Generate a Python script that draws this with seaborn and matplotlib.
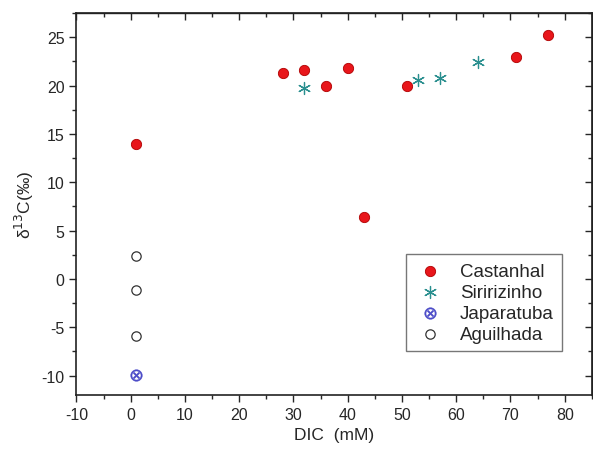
import matplotlib
matplotlib.use("Agg")
import matplotlib.pyplot as plt
from matplotlib.ticker import MultipleLocator
import seaborn as sns
import pandas as pd

# values
castanhal_dic = [1, 28, 32, 36, 40, 43, 51, 71, 77]
castanhal_d13c = [14.0, 21.3, 21.6, 19.9, 21.8, 6.4, 20.0, 22.9, 25.2]
siriri_dic = [32, 53, 57, 64]
siriri_d13c = [19.7, 20.6, 20.8, 22.4]
japaratuba_dic = [1]
japaratuba_d13c = [-9.9]
aguilhada_dic = [1, 1, 1]
aguilhada_d13c = [2.4, -1.1, -5.9]

sns.set_style("ticks")
plt.rcParams["font.family"] = ["Liberation Sans", "DejaVu Sans"]
plt.rcParams["axes.unicode_minus"] = False

fig = plt.figure(figsize=(5.93, 4.52), dpi=100)
ax = fig.add_axes([0.129, 0.124, 0.869, 0.845])

cast = pd.DataFrame({"DIC": castanhal_dic, "d13C": castanhal_d13c})
siri = pd.DataFrame({"DIC": siriri_dic, "d13C": siriri_d13c})
japa = pd.DataFrame({"DIC": japaratuba_dic, "d13C": japaratuba_d13c})
agui = pd.DataFrame({"DIC": aguilhada_dic, "d13C": aguilhada_d13c})

sns.scatterplot(data=cast, x="DIC", y="d13C", ax=ax, marker="o", s=55,
                color="#e8161b", edgecolor="#b00000", linewidth=0.6,
                label="Castanhal", zorder=3)
sns.scatterplot(data=siri, x="DIC", y="d13C", ax=ax, marker=(6, 2, 0), s=75,
                color="#2a8f8f", edgecolor="#2a8f8f", linewidth=0.9,
                label="Siririzinho", zorder=3)
sns.scatterplot(data=japa, x="DIC", y="d13C", ax=ax, marker=r"$\otimes$", s=70,
                color="#4b4bc8", edgecolor="#4b4bc8", linewidth=0.3,
                label="Japaratuba", zorder=3)
sns.scatterplot(data=agui, x="DIC", y="d13C", ax=ax, marker="o", s=45,
                facecolor="white", edgecolor="#333333", linewidth=0.9,
                label="Aguilhada", zorder=3)

ax.set_xlim(-10, 85)
ax.set_ylim(-12, 27.5)
ax.xaxis.set_major_locator(MultipleLocator(10))
ax.xaxis.set_minor_locator(MultipleLocator(5))
ax.yaxis.set_major_locator(MultipleLocator(5))
ax.yaxis.set_minor_locator(MultipleLocator(2.5))
ax.tick_params(which="major", direction="out", length=5, width=1.0, labelsize=11.5)
ax.tick_params(which="minor", direction="out", length=3, width=1.0)

for side in ["top", "right"]:
    sec = ax.secondary_xaxis("top") if side == "top" else ax.secondary_yaxis("right")
    axis = sec.xaxis if side == "top" else sec.yaxis
    axis.set_major_locator(MultipleLocator(10 if side == "top" else 5))
    axis.set_minor_locator(MultipleLocator(5 if side == "top" else 2.5))
    sec.tick_params(which="major", direction="in", length=5, width=1.0)
    sec.tick_params(which="minor", direction="in", length=3, width=1.0)
    sec.tick_params(labeltop=False, labelright=False)
    for sp in sec.spines.values():
        sp.set_linewidth(1.0)

for sp in ax.spines.values():
    sp.set_linewidth(1.2)
    sp.set_color("#222222")

ax.set_xlabel("DIC  (mM)", fontsize=12.5)
ax.set_ylabel("δ$^{13}$C(‰)", fontsize=12.5)

leg = ax.legend(loc="lower right", bbox_to_anchor=(0.942, 0.115), fontsize=13.5,
                frameon=True, fancybox=False, edgecolor="#555555",
                handletextpad=0.8, borderpad=0.45, labelspacing=0.2,
                handlelength=1.6, borderaxespad=0)
leg.get_frame().set_linewidth(1.0)

fig.savefig("out.png", dpi=100)
